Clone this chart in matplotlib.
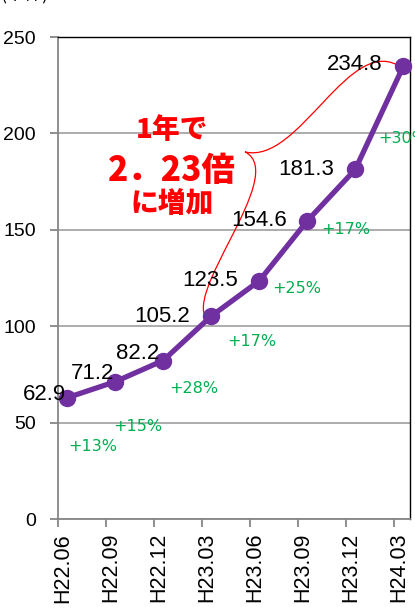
import matplotlib
matplotlib.use("Agg")
import matplotlib.pyplot as plt
import numpy as np
from matplotlib.path import Path
from matplotlib.patches import PathPatch

periods = ["H22.06", "H22.09", "H22.12", "H23.03", "H23.06", "H23.09", "H23.12", "H24.03"]
values = [62.9, 71.2, 82.2, 105.2, 123.5, 154.6, 181.3, 234.8]

# label placement: (dx, dy) in pixels from each point, right-aligned text
label_offsets = [(-1, 3), (-1, 8), (-4, 7), (-21, 0), (-21, 0), (-20, 0), (-21, 0), (-21, 2)]
# where the quarter-on-quarter growth labels sit (data coords)
growth_pos = [(0.72, 37.5), (1.67, 47.9), (2.82, 67.8), (4.03, 92.0),
              (4.98, 119.6), (5.99, 149.9), (7.18, 197.6)]

purple = "#7030A0"
green = "#00B050"
grid_gray = "#A6A6A6"
axis_gray = "#868686"

fig = plt.figure(figsize=(4.15, 6.09), dpi=100)
ax = fig.add_axes([58 / 415, 90 / 609, 352 / 415, 482 / 609])

x = np.arange(len(values)) + 0.19
ax.plot(x, values, color=purple, linewidth=3.8, marker="o", markersize=11.5,
        markerfacecolor=purple, markeredgecolor=purple, zorder=4, clip_on=False)

for xi, v, (dx, dy) in zip(x, values, label_offsets):
    ax.annotate(f"{v:.1f}", (xi, v), xytext=(dx, dy), textcoords="offset pixels",
                ha="right", va="center", fontsize=16, family="Liberation Sans",
                color="black", zorder=5)

growth = [round((values[i + 1] / values[i] - 1) * 100) for i in range(len(values) - 1)]
for (gx, gy), g in zip(growth_pos, growth):
    ax.text(gx, gy, f"+{g}%", ha="center", va="center", fontsize=11.5, color=green,
            family=["Liberation Sans Narrow", "DejaVu Sans"], clip_on=False)

# axes and grid
ax.set_ylim(0, 250)
ax.set_xlim(0, 7.33)
ax.set_yticks(np.arange(0, 251, 50))
ax.yaxis.grid(True, color=grid_gray, linewidth=1.3)
ax.set_axisbelow(True)
ax.tick_params(axis="y", direction="out", length=6, width=1.3, color=axis_gray,
               pad=10, labelsize=14)
for lab in ax.get_yticklabels():
    lab.set_family("Liberation Sans")

ax.set_xticks(np.arange(len(periods)) + 0.1)
ax.set_xticklabels(periods, rotation=90, fontsize=15.5, family="Liberation Sans", va="top")
ax.tick_params(axis="x", which="major", length=0, pad=10)
ax.set_xticks(np.arange(len(periods)), minor=True)
ax.tick_params(axis="x", which="minor", direction="out", length=6, width=1.3, color=axis_gray)

ax.spines["left"].set_color(axis_gray)
ax.spines["left"].set_linewidth(1.3)
ax.spines["bottom"].set_color(axis_gray)
ax.spines["bottom"].set_linewidth(1.3)
ax.spines["top"].set_color("black")
ax.spines["top"].set_linewidth(1.0)
ax.spines["right"].set_color("black")
ax.spines["right"].set_linewidth(1.0)

# brace linking H23.03 to H24.03
brace = Path(
    [(7.167, 233.9), (6.083, 253.6), (5.042, 183.6), (3.896, 190.4),
     (4.833, 178.4), (2.4375, 113.6), (3.167, 102.2)],
    [Path.MOVETO, Path.CURVE4, Path.CURVE4, Path.CURVE4,
     Path.CURVE4, Path.CURVE4, Path.CURVE4])
ax.add_patch(PathPatch(brace, facecolor="none", edgecolor="red", linewidth=0.9,
                       zorder=3, clip_on=False))

jp = ["Noto Sans CJK JP", "DejaVu Sans"]
ratio = values[-1] / values[3]
ratio_txt = f"{ratio:.2f}".replace(".", "．")
ax.text(2.375, 201.8, "1年で", ha="center", va="center", fontsize=20,
        fontweight="black", color="red", family=jp)
ax.text(2.375, 181.0, ratio_txt + "倍", ha="center", va="center", fontsize=24,
        fontweight="black", color="red", family=jp)
ax.text(2.375, 163.4, "に増加", ha="center", va="center", fontsize=20,
        fontweight="black", color="red", family=jp)

fig.text(0.0, 0.994, "(千件)", ha="left", va="bottom", fontsize=13, family=jp)

fig.savefig("out.png", dpi=100)
